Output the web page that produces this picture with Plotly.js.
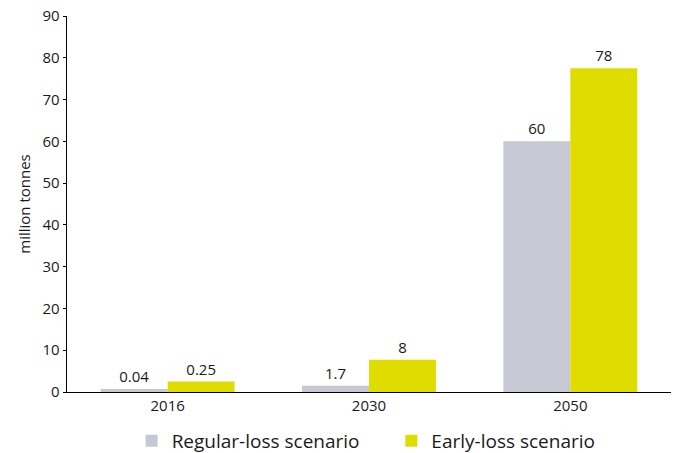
<!DOCTYPE html>
<html>
<head>
<meta charset="utf-8">
<script src="https://cdn.plot.ly/plotly-3.0.1.min.js"></script>
<style>html,body{margin:0;padding:0;background:#fff;}#chart{width:676px;height:453px;}</style>
</head>
<body>
<div id="chart"></div>
<script>
const years = ["2016", "2030", "2050"];
const regularValues = [0.7, 1.5, 60];
const earlyValues = [2.5, 7.7, 77.5];
const regularLabels = ["0.04", "1.7", "60"];
const earlyLabels = ["0.25", "8", "78"];
const yTicks = [0, 10, 20, 30, 40, 50, 60, 70, 80, 90];

const FONT = "Open Sans, Noto Sans, sans-serif";

const traces = [
  {
    type: "bar", name: "Regular-loss scenario", x: years, y: regularValues,
    text: regularLabels, textposition: "outside", cliponaxis: false,
    textfont: {family: FONT, size: 15, color: "#1a1a1a"},
    marker: {color: "#c6c8d3"}, hoverinfo: "skip", legend: "legend"
  },
  {
    type: "bar", name: "Early-loss scenario", x: years, y: earlyValues,
    text: earlyLabels, textposition: "outside", cliponaxis: false,
    textfont: {family: FONT, size: 15, color: "#1a1a1a"},
    marker: {color: "#dfdc00"}, hoverinfo: "skip", legend: "legend2"
  }
];

const legendBase = {
  orientation: "h", xanchor: "left", y: -0.13, yanchor: "middle",
  font: {family: FONT, size: 19, color: "#1a1a1a"},
  bgcolor: "rgba(0,0,0,0)", borderwidth: 0
};

const layout = {
  width: 676, height: 453,
  margin: {l: 67, r: 5, t: 16, b: 61, autoexpand: false},
  paper_bgcolor: "#fff", plot_bgcolor: "#fff",
  font: {family: FONT, color: "#1a1a1a"},
  barmode: "group", bargap: 0.335, bargroupgap: 0,
  showlegend: true,
  legend: Object.assign({}, legendBase, {x: 0.107}),
  legend2: Object.assign({}, legendBase, {x: 0.537}),
  xaxis: {
    type: "category", range: [-0.5, 2.5],
    showline: true, linecolor: "#000", linewidth: 1.3,
    ticks: "", tickfont: {family: FONT, size: 15, color: "#1a1a1a"},
    showgrid: false, zeroline: false, fixedrange: true
  },
  yaxis: {
    range: [0, 90], tickvals: yTicks,
    showline: true, linecolor: "#000", linewidth: 1.3,
    ticks: "outside", ticklen: 3, tickcolor: "#000",
    tickfont: {family: FONT, size: 15, color: "#1a1a1a"},
    showgrid: false, zeroline: false, fixedrange: true,
    title: {text: "million tonnes", font: {family: FONT, size: 15, color: "#1a1a1a"}, standoff: 8}
  },
  shapes: [
    {type: "line", xref: "paper", yref: "y", ysizemode: "pixel", yanchor: 0,
     x0: 0, x1: 0, y0: 0, y1: -5, line: {color: "#000", width: 1.3}}
  ]
};

Plotly.newPlot("chart", traces, layout, {displayModeBar: false, staticPlot: true});
</script>
</body>
</html>
